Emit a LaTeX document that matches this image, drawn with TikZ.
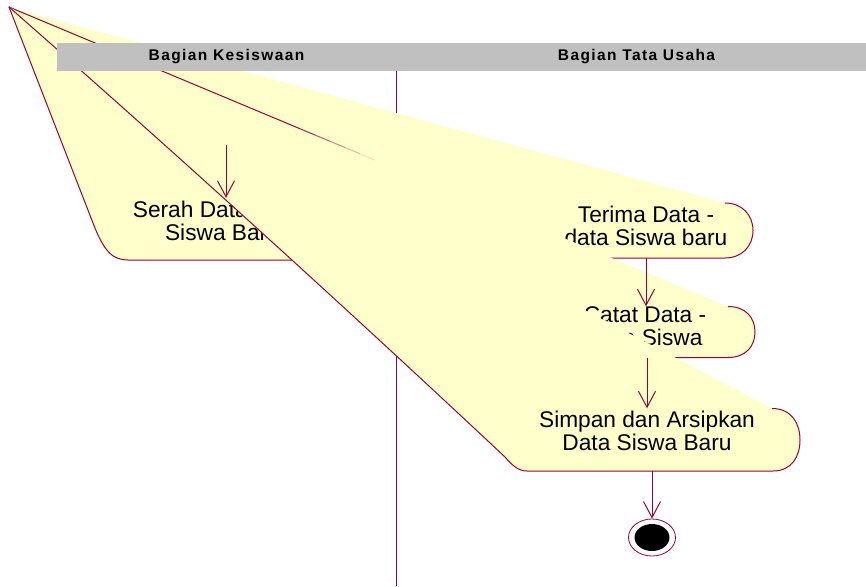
\documentclass[tikz,border=0pt]{standalone}
\usepackage{fontspec}
\setmainfont{Liberation Sans}
\usetikzlibrary{arrows.meta,shapes.geometric,calc}

\definecolor{garismerah}{RGB}{153,0,51}
\definecolor{kuningmuda}{RGB}{255,255,204}
\definecolor{abuabu}{RGB}{192,192,192}

\begin{document}
\begin{tikzpicture}[x = 1pt, y = -1pt]
    \tikzset{>={Straight Barb[length=16pt, width=17pt]}}
    \tikzset{kipas/.style = {fill = kuningmuda, draw = none},
             tepi/.style = {draw = garismerah, line width = 1pt},
             aktivitas/.style = {align = center, inner sep = 0pt, font = \fontsize{22.7}{23}\selectfont},
             panah/.style = {->, draw = garismerah, line width = 1pt},
             judul/.style = {font = \fontsize{15.5}{18}\selectfont\bfseries\addfontfeature{LetterSpace=9}}}

    \useasboundingbox (0,0) rectangle (866,586);

    % titik pojok tempat semua kipas bertemu
    \coordinate (pojok) at (9,7);
    \coordinate (terimakiri) at (609,258);

    % garis pemisah swimlane, tertutup kipas
    \draw[garismerah, line width = 0.9pt] (396,71) -- (396,586);

    % Serah Data
    \fill[kipas] (pojok) -- (315,198) .. controls (335,198) and (345,212) .. (345,229) .. controls (345,246) and (335,260) .. (315,260) -- (128,260) .. controls (113,260) and (104,252) .. (93,223) -- cycle;
    \draw[tepi] (315,198) .. controls (335,198) and (345,212) .. (345,229) .. controls (345,246) and (335,260) .. (315,260) -- (128,260) .. controls (113,260) and (104,252) .. (93,223) -- (pojok);
    \node[aktivitas, minimum height = 62, text depth = 15.6] (serah) at (222.5,229) {Serah Data - data\\Siswa Baru};

    % Terima Data
    \fill[kipas] (pojok) -- (725,203) .. controls (742,203) and (753,215) .. (753,230.5) .. controls (753,246) and (742,258) .. (725,258) -- (terimakiri) -- cycle;
    \draw[tepi] (725,203) .. controls (742,203) and (753,215) .. (753,230.5) .. controls (753,246) and (742,258) .. (725,258) -- (terimakiri);
    \node[aktivitas, minimum height = 55, text depth = 8.6] (terima) at (646,230.5) {Terima Data -\\data Siswa baru};

    % Catat Data
    \fill[kipas] (pojok) -- (728,306.5) .. controls (746,306.5) and (755,318) .. (755,332) .. controls (755,346) and (746,357.5) .. (728,357.5) -- (600,357.5) -- cycle;
    \draw[tepi] (728,306.5) .. controls (746,306.5) and (755,318) .. (755,332) .. controls (755,346) and (746,357.5) .. (728,357.5) -- (600,357.5) -- (pojok);
    \node[aktivitas, minimum height = 51, text depth = 11.6] (catat) at (645,332) {Catat Data -\\Data Siswa};

    % sisi kiri Terima, hilang perlahan di bawah kipas Catat
    \draw[tepi] (pojok) -- ($(pojok)!0.485!(terimakiri)$);
    \foreach \a/\b/\o in {0.485/0.51/0.85, 0.51/0.535/0.65, 0.535/0.56/0.45, 0.56/0.585/0.28, 0.585/0.61/0.12}
        \draw[tepi, draw opacity = \o] ($(pojok)!\a!(terimakiri)$) -- ($(pojok)!\b!(terimakiri)$);

    % Simpan dan Arsipkan
    \fill[kipas] (pojok) -- (772,408.5) .. controls (792,408.5) and (800,424) .. (800,440) .. controls (800,456) and (792,471) .. (773,471) -- (527,471) .. controls (518,471) and (512,465) .. (505,457) .. controls (345,307) and (180,157) .. (pojok) -- cycle;
    \draw[tepi] (772,408.5) .. controls (792,408.5) and (800,424) .. (800,440) .. controls (800,456) and (792,471) .. (773,471) -- (527,471) .. controls (518,471) and (512,465) .. (505,457) .. controls (345,307) and (180,157) .. (pojok);
    \node[aktivitas, minimum height = 62.5, text depth = 17.6] (simpan) at (647,439.75) {Simpan dan Arsipkan\\Data Siswa Baru};

    % kepala swimlane
    \fill[abuabu] (57,43) rectangle (866,71);
    \node[judul] (kesiswaan) at (226.5,57) {Bagian Kesiswaan};
    \node[judul] (tatausaha) at (636.5,57) {Bagian Tata Usaha};

    % status akhir
    \node[ellipse, draw = garismerah, fill = white, line width = 0.8pt, minimum width = 47, minimum height = 37, inner sep = 0pt] (akhir) at (652,537.5) {};
    \fill[black] (akhir.center) ellipse [x radius = 17.5, y radius = 13.5];

    % transisi
    \coordinate (awal) at (226,145);
    \draw[panah] (awal) -- (awal |- serah.north);
    \draw[panah] (terima.south) -- (terima.south |- catat.north);
    \draw[panah] (catat.south -| simpan) -- (simpan.north);
    \draw[panah] (simpan.south -| akhir) -- (akhir.north);
\end{tikzpicture}
\end{document}
